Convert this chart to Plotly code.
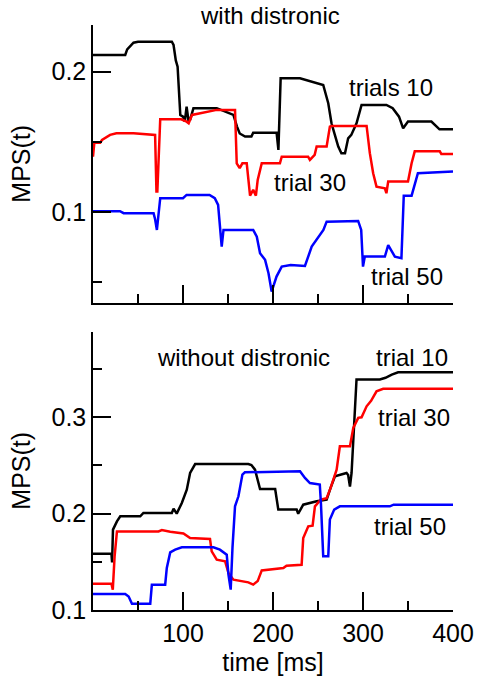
import plotly.graph_objects as go

# ---------------- data ----------------
# top panel: "with distronic"
t10_with_x = [0, 35.8, 38, 45, 50, 87.6, 89.5, 92, 94, 96, 97, 100, 102, 104, 106, 108, 111.6,
              137.5, 142, 150, 156, 160, 163, 169, 176, 178, 204, 206, 208.5, 230, 243, 255.8,
              261.4, 265, 268.8, 272.5, 276, 280, 283.5, 287, 292.8, 298.4, 326, 333, 340,
              344.6, 350, 376, 385, 400]
t10_with_y = [0.2119, 0.2119, 0.2159, 0.2206, 0.2213, 0.2213, 0.219, 0.208, 0.2036, 0.1846, 0.1692,
              0.168, 0.1644, 0.1751, 0.1656, 0.166, 0.174, 0.174, 0.1728, 0.1704, 0.1692, 0.1609,
              0.156, 0.1538, 0.1538, 0.1566, 0.1566, 0.1443, 0.1953, 0.1953, 0.1929, 0.1905,
              0.1775, 0.1633, 0.1549, 0.1467, 0.142, 0.142, 0.1526, 0.155, 0.1633, 0.1763, 0.1763,
              0.174, 0.168, 0.1597, 0.1645, 0.1645, 0.159, 0.159]

t30_with_x = [0, 1.5, 8, 10, 19, 26, 45, 69, 70.5, 71.5, 74.7, 98, 104, 106.3, 110, 126.5, 137.5,
              157.8, 159.7, 163, 166, 170.8, 174.5, 178, 181, 183, 187.5, 207.7, 209.7, 239, 241,
              246.3, 248.5, 259.6, 263.2, 265, 304, 307.6, 311.3, 315, 324.3, 326, 328, 350, 354,
              357.5, 385.3, 387, 400]
t30_with_y = [0.1395, 0.1495, 0.1495, 0.1514, 0.155, 0.1562, 0.1562, 0.155, 0.1147, 0.1147, 0.1661,
              0.1661, 0.1644, 0.1633, 0.1692, 0.1716, 0.1728, 0.1728, 0.1348, 0.1313, 0.1348,
              0.1348, 0.1118, 0.1159, 0.1118, 0.123, 0.1348, 0.1348, 0.1395, 0.1395, 0.1372,
              0.1408, 0.1467, 0.1467, 0.1609, 0.1614, 0.1614, 0.142, 0.1277, 0.1182, 0.117,
              0.1135, 0.1218, 0.1218, 0.1348, 0.1433, 0.1433, 0.1415, 0.1415]

t50_with_x = [0, 30, 34, 67.3, 69, 71, 74.7, 100, 104, 129.5, 135.3, 139, 143, 145, 178, 182,
              185.6, 191.2, 195, 198.5, 203.9, 209.7, 219.6, 235.5, 243, 248.5, 256, 259.6,
              294.6, 298, 300, 302, 324.3, 328, 335.4, 342.7, 345.3, 354, 357.5, 361, 400]
t50_with_y = [0.1007, 0.1007, 0.0993, 0.0993, 0.095, 0.0874, 0.11, 0.11, 0.1123, 0.1123, 0.11,
              0.1052, 0.0755, 0.0874, 0.0874, 0.0826, 0.0708, 0.0661, 0.0566, 0.0435, 0.0542,
              0.0613, 0.0625, 0.0618, 0.0755, 0.0803, 0.0874, 0.0933, 0.0938, 0.0874, 0.0613,
              0.0684, 0.0684, 0.0766, 0.0684, 0.0673, 0.1118, 0.1118, 0.1206, 0.1277, 0.1289]

# bottom panel: "without distronic"
t10_without_x = [0, 20.5, 21.2, 22.2, 26.6, 30.3, 52.5, 56, 87.6, 89.5, 93, 98.7, 104.2, 107.9,
                 113.5, 172.6, 176, 180, 185.6, 202.4, 205.9, 226.3, 228, 233.6, 248.5, 259.6,
                 264, 268.8, 281.7, 283.5, 285.5, 287.3, 292.8, 318.7, 325, 332, 339, 400]
t10_without_y = [0.1583, 0.1583, 0.1494, 0.1834, 0.192, 0.1972, 0.1972, 0.2007, 0.2007, 0.2052,
                 0.2, 0.2111, 0.2249, 0.2422, 0.2515, 0.2515, 0.2505, 0.2457, 0.2256, 0.2256,
                 0.2042, 0.2042, 0.1999, 0.2093, 0.2128, 0.2145, 0.2267, 0.2387, 0.2422, 0.24,
                 0.228, 0.2422, 0.3392, 0.3392, 0.341, 0.3443, 0.3467, 0.3467]

t30_without_x = [0, 20.5, 22, 24, 26.6, 72.8, 76.5, 85.8, 100.5, 107.9, 130, 131.9, 137.5, 146.8,
                 150.5, 156, 172.6, 178, 183, 187.5, 211.5, 215, 231.8, 233.6, 239.2, 244, 246.6,
                 253, 259.6, 264, 270.7, 274.3, 285.5, 289.2, 294.7, 298.4, 304, 309, 315, 322.4,
                 400]
t30_without_y = [0.1273, 0.1273, 0.1211, 0.1557, 0.1816, 0.1816, 0.183, 0.1812, 0.1795, 0.1748,
                 0.1738, 0.1609, 0.1522, 0.1505, 0.1384, 0.1315, 0.1287, 0.1263, 0.13, 0.1411,
                 0.1436, 0.146, 0.147, 0.1748, 0.1868, 0.1875, 0.2076, 0.2145, 0.216, 0.2267,
                 0.2457, 0.2699, 0.2699, 0.289, 0.2994, 0.3, 0.3114, 0.317, 0.327, 0.3295, 0.3295]

t50_without_x = [0, 35.8, 39.6, 43.3, 63.6, 65.4, 80.2, 82, 85.8, 91.3, 98.7, 133.8, 141, 148.6,
                 150.5, 153, 155, 157.8, 161.6, 166, 168.8, 230, 235.5, 241, 252, 253.3, 255.8,
                 261.4, 263.2, 268, 274.3, 329.8, 334, 400]
t50_without_y = [0.1166, 0.1166, 0.114, 0.1065, 0.1065, 0.1263, 0.1263, 0.1436, 0.1598, 0.1626,
                 0.165, 0.165, 0.1626, 0.1574, 0.1367, 0.1211, 0.165, 0.2076, 0.218, 0.2405,
                 0.2429, 0.2439, 0.237, 0.2318, 0.2301, 0.21, 0.1557, 0.1557, 0.1938, 0.2042,
                 0.2076, 0.2076, 0.2093, 0.2093]

# ticks
x_tick_vals = [100, 200, 300, 400]
x_tick_text = ["100", "200", "300", "400"]
x_minor_vals = [50, 150, 250, 350]
top_y_tick_vals = [0.1, 0.2]
top_y_tick_text = ["0.1", "0.2"]
top_y_minor_vals = [0.05, 0.15]
bot_y_tick_vals = [0.1, 0.2, 0.3]
bot_y_tick_text = ["0.1", "0.2", "0.3"]
bot_y_minor_vals = [0.15, 0.25, 0.35]

# ---------------- figure ----------------
FONT = "Liberation Sans, Arial, sans-serif"
FS = 24
TFS = 25
LW = 2.5

fig = go.Figure()

def add(x, y, color, xa, ya, name):
    fig.add_trace(go.Scatter(x=x, y=y, mode="lines", name=name,
                             line=dict(color=color, width=LW),
                             xaxis=xa, yaxis=ya, showlegend=False))

add(t10_with_x, t10_with_y, "#000000", "x", "y", "trial 10 (with)")
add(t30_with_x, t30_with_y, "#ff0000", "x", "y", "trial 30 (with)")
add(t50_with_x, t50_with_y, "#0000ff", "x", "y", "trial 50 (with)")
add(t10_without_x, t10_without_y, "#000000", "x2", "y2", "trial 10 (without)")
add(t30_without_x, t30_without_y, "#ff0000", "x2", "y2", "trial 30 (without)")
add(t50_without_x, t50_without_y, "#0000ff", "x2", "y2", "trial 50 (without)")

axis_common = dict(showline=True, linecolor="black", linewidth=1.5, showgrid=False,
                   zeroline=False, ticks="inside", ticklen=18, tickwidth=1.5,
                   tickcolor="black", automargin=False, ticklabeloverflow="allow",
                   tickfont=dict(family=FONT, size=TFS, color="black"))
minor_common = dict(ticks="inside", ticklen=9, tickwidth=1.5, tickcolor="black")

top_dom = [0.5255, 1.0]
bot_dom = [0.0, 0.476]

fig.update_layout(
    width=477, height=679,
    margin=dict(l=93, r=24, t=25, b=69),
    paper_bgcolor="white", plot_bgcolor="white",
    font=dict(family=FONT, size=FS, color="black"),
    xaxis=dict(axis_common, domain=[0, 1], range=[0, 400], anchor="y",
               tickvals=x_tick_vals, showticklabels=False,
               minor=dict(minor_common, tickvals=x_minor_vals)),
    yaxis=dict(axis_common, domain=top_dom, range=[0.0357, 0.2332], anchor="x",
               tickvals=top_y_tick_vals, ticktext=top_y_tick_text,
               minor=dict(minor_common, tickvals=top_y_minor_vals),
               title=dict(text="MPS(t)", standoff=14,
                          font=dict(family=FONT, size=TFS, color="black"))),
    xaxis2=dict(axis_common, domain=[0, 1], range=[0, 400], anchor="y2",
                tickvals=x_tick_vals, ticktext=x_tick_text,
                minor=dict(minor_common, tickvals=x_minor_vals),
                title=dict(text="time [ms]", standoff=8,
                           font=dict(family=FONT, size=TFS, color="black"))),
    yaxis2=dict(axis_common, domain=bot_dom, range=[0.1, 0.389], anchor="x2",
                tickvals=bot_y_tick_vals, ticktext=bot_y_tick_text,
                minor=dict(minor_common, tickvals=bot_y_minor_vals),
                title=dict(text="MPS(t)", standoff=14,
                           font=dict(family=FONT, size=TFS, color="black"))),
)

def label(text, x, y, xref, yref, xanchor="center"):
    fig.add_annotation(text=text, x=x, y=y, xref=xref, yref=yref, xanchor=xanchor,
                       yanchor="middle", showarrow=False,
                       font=dict(family=FONT, size=FS, color="black"))

label("with distronic", 196.7, 1.0155, "x", "paper")
label("trials 10", 379.8, 0.1884, "x", "y", "right")
label("trial 30", 283, 0.1208, "x", "y", "right")
label("trial 50", 390.8, 0.054, "x", "y", "right")
label("without distronic", 167.3, 0.362, "x2", "y2")
label("trial 10", 396.6, 0.362, "x2", "y2", "right")
label("trial 30", 398.5, 0.2997, "x2", "y2", "right")
label("trial 50", 394, 0.1865, "x2", "y2", "right")

# remove the default 8px page margin so the 477x679 figure fills the window exactly
fig.write_html("out.html",
               config={"displayModeBar": False},
               post_script="document.body.style.margin='0px';document.body.style.overflow='hidden';")
